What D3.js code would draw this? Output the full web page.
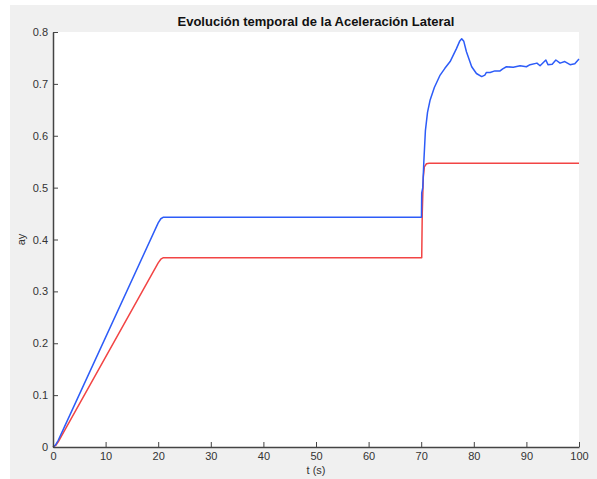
<!DOCTYPE html>
<html>
<head>
<meta charset="utf-8">
<script src="https://cdn.jsdelivr.net/npm/d3@7"></script>
<style>
  body { margin: 0; background: #fff; }
  svg text { font-family: "Liberation Sans", Arial, Helvetica, sans-serif; }
</style>
</head>
<body>
<svg id="chart" width="597" height="479"></svg>
<script>
// ay (lateral acceleration) over time
const tBlue = [0, 0.5, 1, 2, 20, 20.5, 21, 70, 70.05, 70.1, 70.3, 70.5, 70.8, 71.2, 71.7, 72.5, 73.6, 74.5, 75.5, 76.7, 77.3, 77.7, 78.1,
    78.6, 79.6, 80.5, 81.5, 82.1, 82.4, 83.1, 84, 85, 85.5, 86.2, 87.5, 88.8, 90, 90.7, 92, 92.6, 93.7, 94.1, 94.9,
    95.6, 96.4, 97.3, 98.3, 99.2, 100];
const ayBlue = [0, 0.004, 0.013, 0.035, 0.432, 0.44, 0.443, 0.443, 0.443, 0.49, 0.5, 0.55, 0.61, 0.645, 0.669, 0.693, 0.717, 0.73, 0.743, 0.768, 0.782, 0.787, 0.782,
    0.762, 0.733, 0.72, 0.714, 0.717, 0.722, 0.722, 0.725, 0.725, 0.729, 0.733, 0.732, 0.735, 0.733, 0.737, 0.74, 0.735, 0.746, 0.737, 0.738,
    0.746, 0.74, 0.743, 0.737, 0.739, 0.748];

const tRed = [0, 0.5, 1, 2, 20, 20.5, 21, 70, 70.1, 70.2, 70.4, 70.6, 71, 71.5, 100];
const ayRed = [0, 0.003, 0.01, 0.028, 0.355, 0.362, 0.365, 0.365, 0.365, 0.45, 0.52, 0.54, 0.546, 0.547, 0.547];

const xTicks = d3.range(0, 101, 10);
const yTicks = d3.range(0, 0.81, 0.1);

const titleText = 'Evolución temporal de la Aceleración Lateral';
const xLabel = 't (s)';
const yLabel = 'ay';

const svg = d3.select('#chart');
const margin = { left: 53, right: 18, top: 32, bottom: 32 };
const W = 597, H = 479;

// figure background
svg.append('rect').attr('x', 10).attr('y', 5).attr('width', W - 10).attr('height', H - 5).attr('fill', '#f0f0f0');

const x = d3.scaleLinear().domain([0, 100]).range([margin.left, W - margin.right]);
const y = d3.scaleLinear().domain([0, 0.8]).range([H - margin.bottom, margin.top]);

svg.append('rect')
    .attr('x', x(0)).attr('y', y(0.8))
    .attr('width', x(100) - x(0)).attr('height', y(0) - y(0.8))
    .attr('fill', '#fff');

const line = d3.line().x(d => x(d[0])).y(d => y(d[1]));

svg.append('path')
    .datum(d3.zip(tRed, ayRed))
    .attr('d', line)
    .attr('fill', 'none')
    .attr('stroke', '#f24444')
    .attr('stroke-width', 1.5)
    .attr('stroke-linejoin', 'round');

svg.append('path')
    .datum(d3.zip(tBlue, ayBlue))
    .attr('d', line)
    .attr('fill', 'none')
    .attr('stroke', '#2d5cf8')
    .attr('stroke-width', 1.5)
    .attr('stroke-linejoin', 'round');

// axes, ticks pointing inward
const xAxis = svg.append('g')
    .attr('transform', `translate(0,${y(0)})`)
    .call(d3.axisBottom(x).tickValues(xTicks).tickSizeInner(-5).tickSizeOuter(0).tickPadding(6).tickFormat(d3.format('d')));

const yAxis = svg.append('g')
    .attr('transform', `translate(${x(0)},0)`)
    .call(d3.axisLeft(y).tickValues(yTicks).tickSizeInner(-5).tickSizeOuter(0).tickPadding(8)
        .tickFormat(d => d === 0 ? '0' : d3.format('.1f')(d)));

[xAxis, yAxis].forEach(g => {
    g.select('.domain').attr('stroke', '#444').attr('stroke-width', 1.5);
    g.selectAll('.tick line').attr('stroke', '#444');
    g.selectAll('.tick text').attr('fill', '#333').attr('font-size', 11);
});
xAxis.selectAll('.tick text').attr('dy', '0.6em');
yAxis.selectAll('.tick text').attr('x', -5);

svg.append('text')
    .attr('x', (x(0) + x(100)) / 2).attr('y', 26)
    .attr('text-anchor', 'middle')
    .attr('font-size', 13).attr('font-weight', 'bold').attr('fill', '#111')
    .text(titleText);

svg.append('text')
    .attr('x', (x(0) + x(100)) / 2).attr('y', 474)
    .attr('text-anchor', 'middle')
    .attr('font-size', 11).attr('fill', '#333')
    .text(xLabel);

svg.append('text')
    .attr('transform', `translate(25,${(y(0) + y(0.8)) / 2}) rotate(-90)`)
    .attr('text-anchor', 'middle')
    .attr('font-size', 11).attr('fill', '#333')
    .text(yLabel);
</script>
</body>
</html>
